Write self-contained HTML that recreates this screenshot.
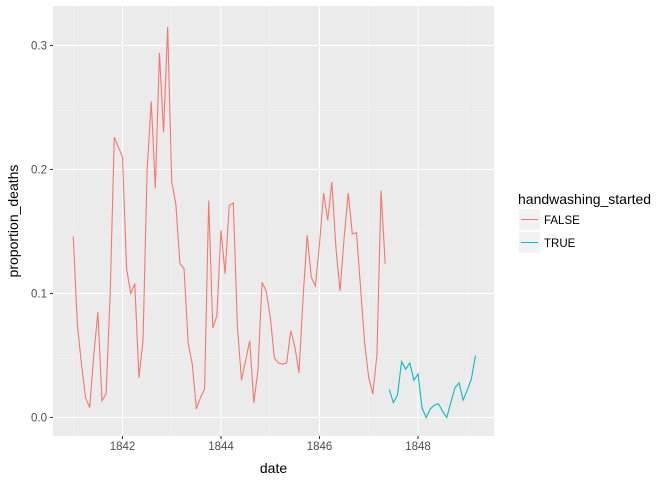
<!DOCTYPE html>
<html><head><meta charset="utf-8"><style>
body{margin:0;background:#fff;font-family:"Liberation Sans",Arial,sans-serif;}
svg text{font-family:"Liberation Sans",Arial,sans-serif;}
</style></head><body>
<svg id="chart" width="672" height="480" xmlns="http://www.w3.org/2000/svg"></svg>
<script>
const falseValues=[0.146,0.075,0.043,0.016,0.008,0.05,0.085,0.0135,0.019,0.1,0.226,0.218,0.21,0.12,0.1,0.108,0.032,0.062,0.2,0.255,0.185,0.294,0.23,0.315,0.19,0.172,0.124,0.12,0.06,0.043,0.007,0.016,0.023,0.175,0.072,0.082,0.151,0.116,0.171,0.173,0.073,0.03,0.046,0.062,0.012,0.038,0.109,0.102,0.081,0.048,0.044,0.043,0.044,0.07,0.057,0.036,0.097,0.147,0.113,0.106,0.14,0.181,0.159,0.19,0.137,0.102,0.145,0.181,0.148,0.149,0.105,0.06,0.032,0.019,0.051,0.183,0.124];
const trueValues=[0.0225,0.012,0.018,0.045,0.039,0.044,0.030,0.035,0.0075,0.0,0.007,0.01,0.011,0.005,0.0,0.012,0.024,0.028,0.014,0.022,0.031,0.050];
const falseStart=[1841,0];
const trueStart=[1847,5];
const xTicks=[1842,1844,1846,1848];
const yTicks=[0,0.1,0.2,0.3];
const yLabels=["0.0","0.1","0.2","0.3"];

const svg=document.getElementById('chart');
const NS='http://www.w3.org/2000/svg';
const P={l:53,r:494,t:6,b:436};
const xs=t=>122.5+(t-1842)*49.25;
const ys=v=>417.5-v*1240;
function mk(tag,attrs){const e=document.createElementNS(NS,tag);for(const k in attrs)e.setAttribute(k,attrs[k]);svg.appendChild(e);return e;}

const bg=mk('rect',{x:P.l,y:P.t,width:P.r-P.l,height:P.b-P.t,fill:'#ebebeb'});


// minor grid
for(let i=0;i<xTicks.length+1;i++){const t=xTicks[0]-1+i*2;const x=xs(t);if(x>P.l&&x<P.r){const g=mk('line',{x1:x,x2:x,y1:P.t,y2:P.b,stroke:'#f4f4f4','stroke-width':0.6});}}
for(let i=0;i<yTicks.length;i++){const v=yTicks[i]+0.05;const y=ys(v);if(y>P.t&&y<P.b){const g=mk('line',{x1:P.l,x2:P.r,y1:y,y2:y,stroke:'#f4f4f4','stroke-width':0.6});}}
// major grid + ticks
xTicks.forEach(t=>{const x=xs(t);
 const g=mk('line',{x1:x,x2:x,y1:P.t,y2:P.b,stroke:'#fff','stroke-width':1.1});
 const tk=mk('line',{x1:x,x2:x,y1:P.b,y2:P.b+3,stroke:'#333','stroke-width':1.1});
 const tx=mk('text',{x:x,y:P.b+14,'text-anchor':'middle','font-size':11.5,fill:'#4d4d4d'});tx.textContent=t;});
yTicks.forEach((v,i)=>{const y=ys(v);
 const g=mk('line',{x1:P.l,x2:P.r,y1:y,y2:y,stroke:'#fff','stroke-width':1.1});
 const tk=mk('line',{x1:P.l-3,x2:P.l,y1:y,y2:y,stroke:'#333','stroke-width':1.1});
 const tx=mk('text',{x:P.l-6,y:y+4,'text-anchor':'end','font-size':11.5,fill:'#4d4d4d'});tx.textContent=yLabels[i];});
function series(vals,start,color,name){
 const pts=vals.map((v,i)=>{const t=start[0]+(start[1]+i)/12;return xs(t).toFixed(2)+','+ys(v).toFixed(2);}).join(' ');
 const l=mk('polyline',{points:pts,fill:'none',stroke:color,'stroke-width':1.1});
 
 
}
series(falseValues,falseStart,'#f8766d','line-false');
series(trueValues,trueStart,'#00bfc4','line-true');
const xt=mk('text',{x:(P.l+P.r)/2,y:473,'text-anchor':'middle','font-size':14,fill:'#000'});xt.textContent='date';


const yt=mk('text',{x:0,y:0,'text-anchor':'middle','font-size':14,fill:'#000',transform:'translate(18,'+((P.t+P.b)/2)+') rotate(-90)'});yt.textContent='proportion_deaths';


const lt=mk('text',{x:518,y:204,'font-size':14,fill:'#000'});lt.textContent='handwashing_started';


[['FALSE','#f8766d',209],['TRUE','#00bfc4',232]].forEach(([lab,c,y])=>{
 const k=mk('rect',{x:519,y:y,width:21,height:21,fill:'#f2f2f2'});
 const ln=mk('line',{x1:521,x2:538,y1:y+10.5,y2:y+10.5,stroke:c,'stroke-width':1.1});
 const t=mk('text',{x:544,y:y+15,'font-size':11.5,fill:'#000'});t.textContent=lab;
});
</script>
</body></html>
